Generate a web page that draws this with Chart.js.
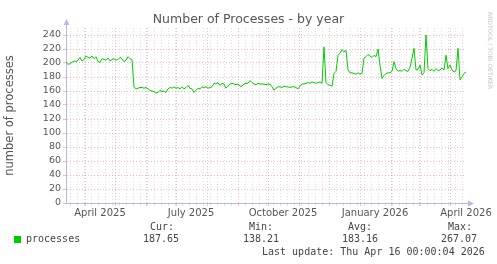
<!DOCTYPE html>
<html>
<head>
<meta charset="utf-8">
<script src="https://cdn.jsdelivr.net/npm/chart.js@4/dist/chart.umd.min.js"></script>
<style>
  body { margin: 0; background: #fff; }
  #wrap { position: relative; width: 497px; height: 264px; font-family: "DejaVu Sans", sans-serif; color: #555; }
  canvas { position: absolute; left: 0; top: 0; }
  .t { position: absolute; white-space: pre; line-height: 1; }
  .mono { font-family: "DejaVu Sans Mono", monospace; font-size: 10px; color: #444; }
  #title { left: 0; width: 497px; top: 13px; text-align: center; font-size: 12.5px; color: #555; }
  #mark { left: 487px; top: 12px; font-size: 6px; color: #c8c8c8; writing-mode: vertical-rl; }
  #swatch { position: absolute; left: 14px; top: 236px; width: 7px; height: 7px; background: #00cc00; }
</style>
</head>
<body>
<div id="wrap">
  <canvas id="line-chart" width="497" height="264"></canvas>
  <div class="t" id="title">Number of Processes - by year</div>
  <div class="t" id="mark">RRDTOOL / TOBI OETIKER</div>
  <div id="swatch"></div>
  <div class="t mono" style="left:26px;top:234px">processes</div>
  <div class="t mono" style="left:150px;top:222px">Cur:</div>
  <div class="t mono" style="left:143px;top:234px">187.65</div>
  <div class="t mono" style="left:249px;top:222px">Min:</div>
  <div class="t mono" style="left:243px;top:234px">138.21</div>
  <div class="t mono" style="left:348px;top:222px">Avg:</div>
  <div class="t mono" style="left:342px;top:234px">183.16</div>
  <div class="t mono" style="left:448px;top:222px">Max:</div>
  <div class="t mono" style="left:441px;top:234px">267.07</div>
  <div class="t mono" style="left:262px;top:247px">Last update: Thu Apr 16 00:00:04 2026</div>
</div>
<script>
// yearly process count, one sample every 2 days, day 0 = Mar 13 2025
const sampleStepDays = 2;
const processes = [
  201, 198, 199, 201, 203, 202, 204, 208, 203, 205, 210, 208, 207, 210, 206, 209, 202,
  201, 206, 205, 204, 207, 203, 205, 206, 204, 205, 208, 206, 202, 204, 209, 206, 205,
  166, 163, 164, 165, 165, 164, 165, 163, 161, 160, 159, 157, 158, 161, 159, 160,
  158, 163, 165, 164, 166, 164, 165, 163, 166, 163, 165, 168, 164, 163, 158, 161, 164,
  163, 166, 165, 166, 164, 165, 166, 171, 170, 172, 168, 171,
  170, 164, 167, 170, 171, 170, 169, 170, 167, 167, 170, 171, 171, 175, 172, 170, 169,
  171, 170, 170, 170, 169, 170, 170, 166,
  161, 164, 166, 166, 165, 167, 166, 166, 165, 166, 166, 165, 163, 167, 170, 170, 171,
  172, 171, 173, 172, 171, 172, 173, 171,
  223, 172, 169, 168, 167, 185, 188, 211, 214, 219, 216, 218, 190, 186, 186, 185, 184,
  186, 184, 185, 207, 209, 212, 210, 208, 211, 209, 220, 197, 178, 182, 185, 186, 186,
  188, 202, 192, 188, 190, 188, 191, 189, 188, 194, 207, 221, 190, 191, 197, 183, 186,
  240, 192, 189, 191, 188, 192, 189, 190, 193, 190, 211, 192, 197, 190, 187, 189, 221,
  176, 180, 185, 187
];

const monthStartDays = [19, 49, 80, 110, 141, 172, 202, 233, 263, 294, 325, 353, 384];
const xLabelDays = [34, 125, 217, 309, 400];
const xLabelTexts = ['April 2025', 'July 2025', 'October 2025', 'January 2026', 'April 2026'];
const yMax = 250;

const majorColor = 'rgba(235,70,70,0.38)';
const minorColor = 'rgba(160,160,160,0.32)';
const axisColor = '#b8b8ee';

// weekly minor lines (Mondays)
const weekDays = [];
for (let d = 4; d <= 400; d += 7) {
  if (!monthStartDays.some(m => Math.abs(m - d) < 1)) weekDays.push(d);
}
const labelMap = new Map(xLabelDays.map((d, i) => [d, xLabelTexts[i]]));
const xTickDays = [...new Set([...weekDays, ...monthStartDays, ...xLabelDays])].sort((a, b) => a - b);

const xGridColor = (v) => {
  if (monthStartDays.includes(v)) return majorColor;
  if (weekDays.includes(v)) return minorColor;
  return 'rgba(0,0,0,0)';
};

const axisArrows = {
  id: 'axisArrows',
  afterDraw(chart) {
    const { ctx, chartArea: a } = chart;
    const x0 = Math.round(a.left) + 0.5;
    const y0 = Math.round(a.bottom) + 0.5;
    ctx.save();
    ctx.strokeStyle = axisColor;
    ctx.fillStyle = axisColor;
    ctx.lineWidth = 1;
    ctx.beginPath();
    ctx.moveTo(x0, a.top);
    ctx.lineTo(x0, a.top - 5);
    ctx.moveTo(a.right, y0);
    ctx.lineTo(a.right + 4, y0);
    ctx.stroke();
    ctx.beginPath();
    ctx.moveTo(x0, a.top - 9);
    ctx.lineTo(x0 - 3, a.top - 3);
    ctx.lineTo(x0 + 3, a.top - 3);
    ctx.fill();
    ctx.beginPath();
    ctx.moveTo(a.right + 8, y0);
    ctx.lineTo(a.right + 2, y0 - 3);
    ctx.lineTo(a.right + 2, y0 + 3);
    ctx.fill();
    ctx.restore();
  }
};

Chart.defaults.font.family = '"DejaVu Sans", sans-serif';
Chart.defaults.color = '#555';

new Chart(document.getElementById('line-chart'), {
  type: 'line',
  data: {
    datasets: [{
      label: 'processes',
      data: processes.map((v, i) => ({ x: i * sampleStepDays, y: v })),
      borderColor: '#00cc00',
      borderWidth: 1,
      pointRadius: 0,
      tension: 0,
      fill: false
    }]
  },
  options: {
    responsive: false,
    animation: false,
    devicePixelRatio: 1,
    layout: { padding: { left: 0, top: 28, right: 31, bottom: 0 } },
    plugins: { legend: { display: false }, tooltip: { enabled: false } },
    scales: {
      x: {
        type: 'linear',
        min: 0,
        max: 400,
        afterBuildTicks: (scale) => { scale.ticks = xTickDays.map(v => ({ value: v })); },
        afterFit: (scale) => { scale.height = 61; },
        ticks: {
          autoSkip: false,
          maxRotation: 0,
          minRotation: 0,
          padding: 1,
          font: { size: 10 },
          color: '#555',
          callback: (v) => labelMap.get(v) || ''
        },
        grid: {
          color: (c) => xGridColor(c.tick.value),
          tickColor: (c) => xGridColor(c.tick.value),
          drawTicks: true,
          tickLength: 3,
          lineWidth: 1
        },
        border: { color: axisColor, dash: [1, 2] }
      },
      y: {
        min: 0,
        max: yMax,
        afterFit: (scale) => { scale.width = 66; },
        ticks: {
          stepSize: 10,
          padding: 2,
          font: { size: 9.5 },
          color: '#555',
          callback: (v) => (v % 20 === 0 ? v : '')
        },
        grid: {
          color: (c) => (c.tick.value % 20 === 0 ? majorColor : minorColor),
          tickColor: (c) => (c.tick.value % 20 === 0 ? majorColor : minorColor),
          drawTicks: true,
          tickLength: 3,
          lineWidth: 1
        },
        border: { color: axisColor, dash: [1, 2] },
        title: {
          display: true,
          text: 'number of processes',
          color: '#555',
          font: { size: 11.5 },
          padding: { top: 3, bottom: 0 }
        }
      }
    }
  },
  plugins: [axisArrows]
});
</script>
</body>
</html>
